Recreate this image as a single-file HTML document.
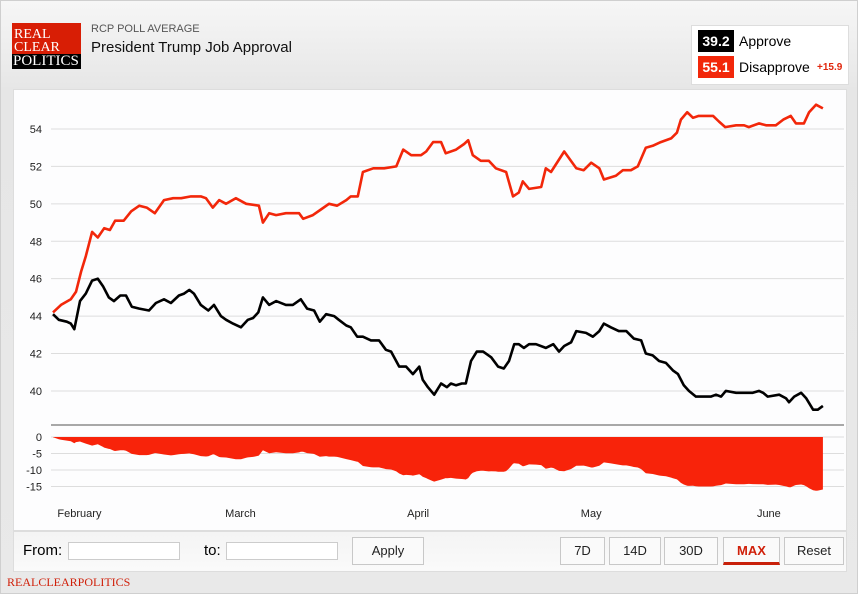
<!DOCTYPE html>
<html><head><meta charset="utf-8">
<style>
*{box-sizing:border-box;margin:0;padding:0}
body{width:858px;height:594px;overflow:hidden;font-family:"Liberation Sans",sans-serif;background:#fff}
#wrap{position:absolute;left:0;top:0;width:858px;height:594px;background:linear-gradient(#f6f6f6,#e6e6e6 90px,#e9e9e9);border:1px solid #cfcfcf}
.abs{position:absolute}
.btn{position:absolute;top:536px;height:28px;border:1px solid #c8c8c8;background:#fafafa;font-size:13px;text-align:center;line-height:26px;color:#222}
.inp{position:absolute;top:541px;height:18px;border:1px solid #ccc;background:#fff}
</style></head><body>
<div id="wrap">
  <div class="abs" style="left:11px;top:22px;width:69px;height:46px;background:#d81e05;font-family:'Liberation Serif',serif;color:#fff;font-size:14px;line-height:13px;padding:5px 0 0 2px">REAL<br>CLEAR<div style="position:absolute;left:0;bottom:0;width:69px;height:15px;background:#000;font-size:15px;line-height:15px;padding-left:1px">POLITICS</div></div>
  <div class="abs" style="left:90px;top:22px;font-size:11px;color:#555">RCP POLL AVERAGE</div>
  <div class="abs" style="left:90px;top:38px;font-size:15px;color:#111">President Trump Job Approval</div>
  <div class="abs" style="left:690px;top:24px;width:158px;height:60px;background:#fff;border:1px solid #ddd">
    <div class="abs" style="left:6px;top:4px;width:36px;height:22px;background:#000;color:#fff;font-weight:bold;font-size:14px;text-align:center;line-height:22px">39.2</div>
    <div class="abs" style="left:47px;top:7px;font-size:14px">Approve</div>
    <div class="abs" style="left:6px;top:30px;width:36px;height:22px;background:#f2270a;color:#fff;font-weight:bold;font-size:14px;text-align:center;line-height:22px">55.1</div>
    <div class="abs" style="left:47px;top:33px;font-size:14px">Disapprove</div>
    <div class="abs" style="left:125px;top:36px;font-size:10px;color:#e0260c;font-weight:bold">+15.9</div>
  </div>
  <div class="abs" style="left:12px;top:88px;width:834px;height:442px;background:#fdfdfe;border:1px solid #ddd"></div>
  <svg class="abs" id="chart" style="left:0;top:0" width="858" height="594"></svg>
  <div class="abs" style="left:12px;top:530px;width:834px;height:41px;background:linear-gradient(#f4f4f4,#fafafa);border:1px solid #ddd"></div>
  <div class="abs" style="left:22px;top:541px;font-size:15px">From:</div>
  <div class="inp" style="left:67px;width:112px"></div>
  <div class="abs" style="left:203px;top:541px;font-size:15px">to:</div>
  <div class="inp" style="left:225px;width:112px"></div>
  <div class="btn" style="left:351px;width:72px">Apply</div>
  <div class="btn" style="left:559px;width:45px">7D</div>
  <div class="btn" style="left:608px;width:52px">14D</div>
  <div class="btn" style="left:663px;width:54px">30D</div>
  <div class="btn" style="left:722px;width:57px;color:#d0200a;font-weight:bold;border-bottom:3px solid #c8200a">MAX</div>
  <div class="btn" style="left:783px;width:60px">Reset</div>
  <div class="abs" style="left:6px;top:574px;font-family:'Liberation Serif',serif;font-size:12px;color:#d0200a">REALCLEARPOLITICS</div>
</div>
<script>
const approveDays=[0,1,2.4,3.1,3.7,4.7,5.7,6.8,7.8,8.7,9.7,10.6,11.7,12.7,13.7,15,16.7,17.9,19.3,20.5,21.9,22.8,23.7,24.5,25.7,27,28,29.2,30.1,31.3,32.7,33.9,34.8,35.7,36.5,37.6,38.8,40.5,41.7,43.1,44.2,45.4,46.4,47.5,48.9,49.7,51,51.8,52.9,53.9,55.3,56.7,57.9,58.8,60.2,61.4,62.6,63.7,64.3,65.2,66.3,67.5,68.5,69.2,70.1,71.1,71.8,72.7,73.7,74.8,76.2,77.4,78.4,79.3,80.2,81,81.9,82.8,84,85.7,87,88,88.9,90.1,91,92.7,93.9,95,95.8,97,98.4,99.7,101,102.3,103.1,104.3,105.4,106.6,107.8,108.7,109.7,110.6,111.8,113.6,114.4,115.3,116.2,117,118.8,121.7,122.8,123.5,124.3,126.3,127.5,128,128.9,130.1,131,132.2,133,133.9];
const approveVals=[44.1,43.8,43.7,43.6,43.3,44.8,45.2,45.9,46.0,45.6,45.0,44.8,45.1,45.1,44.5,44.4,44.3,44.7,44.9,44.7,45.1,45.2,45.4,45.2,44.6,44.3,44.6,44.0,43.8,43.6,43.4,43.8,43.9,44.2,45.0,44.6,44.8,44.6,44.6,44.9,44.4,44.3,43.7,44.1,44.0,43.8,43.5,43.4,42.9,42.9,42.7,42.7,42.2,42.1,41.3,41.3,40.9,41.3,40.6,40.2,39.8,40.4,40.2,40.4,40.3,40.4,40.4,41.6,42.1,42.1,41.8,41.3,41.2,41.6,42.5,42.5,42.3,42.5,42.5,42.3,42.5,42.1,42.4,42.6,43.2,43.1,42.9,43.2,43.6,43.4,43.2,43.2,42.8,42.7,42.0,41.9,41.6,41.5,41.1,40.9,40.3,40.0,39.7,39.7,39.7,39.8,39.7,40.0,39.9,39.9,40.0,39.9,39.7,39.8,39.6,39.4,39.7,39.9,39.6,39.0,39.0,39.2];
const disDays=[0,1.4,3.1,4,4.9,5.7,6.8,7.8,8.9,9.9,10.8,12.3,13.6,15,16.3,17.7,19.3,20.9,22.3,24,25.7,26.6,27.8,28.9,30.1,31.8,33.6,35.8,36.5,37.6,38.8,40.5,42.8,43.5,45.2,46.6,48,49.4,51,51.8,53,53.9,55.7,57.6,59.7,60.9,62.3,64,64.9,66.1,67.5,68.3,70.1,71.5,72.2,73,74.4,75.8,77,78.8,80,81,81.7,82.8,84.9,85.7,86.6,88.9,91,92.3,93.6,95,95.8,97.9,99.1,100.5,101.7,103.1,104.3,105.7,107.5,108.5,109.2,110.3,111.3,112.3,114.8,115.8,116.9,118.8,120.2,121,122.8,124,125.7,127,128.3,129.2,130.6,131.5,132.7,133.9];
const disVals=[44.2,44.6,44.9,45.3,46.4,47.2,48.5,48.2,48.7,48.6,49.1,49.1,49.6,49.9,49.8,49.5,50.2,50.3,50.3,50.4,50.4,50.3,49.8,50.2,50.0,50.3,50.0,49.9,49.0,49.5,49.4,49.5,49.5,49.2,49.4,49.7,50.0,49.9,50.2,50.4,50.4,51.7,51.9,51.9,52.0,52.9,52.6,52.6,52.8,53.3,53.3,52.7,52.9,53.2,53.4,52.6,52.3,52.3,51.9,51.7,50.4,50.6,51.2,50.8,50.9,51.9,51.7,52.8,51.9,51.8,52.2,51.9,51.3,51.5,51.8,51.8,52.0,53.0,53.1,53.3,53.5,53.8,54.5,54.9,54.6,54.7,54.7,54.4,54.1,54.2,54.2,54.1,54.3,54.2,54.2,54.5,54.7,54.3,54.3,54.9,55.3,55.1];
const yTicks=[40,42,44,46,48,50,52,54];
const spreadTicks=[0,-5,-10,-15];
const monthLabels=["February","March","April","May","June"];
const monthDays=[4.6,32.6,63.5,93.6,124.5];

const svg=document.getElementById('chart');
const NS='http://www.w3.org/2000/svg';
const xS=d=>52+d*5.75;
const yS=v=>128+(54-v)*18.71;
const sS=v=>436-v*3.3;
function mk(tag,attrs,parent){const e=document.createElementNS(NS,tag);for(const k in attrs)e.setAttribute(k,attrs[k]);(parent||svg).appendChild(e);return e;}

yTicks.forEach(t=>{
  const g=mk('line',{x1:50,x2:843,y1:yS(t),y2:yS(t),stroke:'#ddd','stroke-width':1});
  
  
  const l=mk('text',{x:41,y:yS(t)+4,'text-anchor':'end','font-size':11,fill:'#222','font-family':'Liberation Sans, sans-serif'});
  l.textContent=t;
  
  
});
const sep=mk('line',{x1:50,x2:843,y1:424,y2:424,stroke:'#a8a8a8','stroke-width':2});


spreadTicks.forEach(t=>{
  const g=mk('line',{x1:50,x2:843,y1:sS(t),y2:sS(t),stroke:'#ddd','stroke-width':1});
  
  
  const l=mk('text',{x:41,y:sS(t)+4,'text-anchor':'end','font-size':11,fill:'#222','font-family':'Liberation Sans, sans-serif'});
  l.textContent=t;
  
  
});
function interp(days,vals,d){if(d<=days[0])return vals[0];for(let i=1;i<days.length;i++){if(d<=days[i]){const f=(d-days[i-1])/(days[i]-days[i-1]);return vals[i-1]+f*(vals[i]-vals[i-1]);}}return vals[vals.length-1];}
const allDays=[...new Set(approveDays.concat(disDays))].sort((a,b)=>a-b);
let sp='M'+xS(allDays[0])+','+sS(0);
allDays.forEach(d=>{const s=interp(approveDays,approveVals,d)-interp(disDays,disVals,d);sp+=' L'+xS(d).toFixed(1)+','+sS(s).toFixed(1);});
sp+=' L'+xS(allDays[allDays.length-1])+','+sS(0)+' Z';
const area=mk('path',{d:sp,fill:'#f8230a'});


function line(days,vals,color,name){
  const d=days.map((x,i)=>(i?'L':'M')+xS(x).toFixed(1)+','+yS(vals[i]).toFixed(1)).join(' ');
  const p=mk('path',{d:d,fill:'none',stroke:color,'stroke-width':2.6,'stroke-linejoin':'round'});
  
  
}
line(disDays,disVals,'#f2270a','disapprove-line');
line(approveDays,approveVals,'#000','approve-line');
monthLabels.forEach((m,i)=>{
  const l=mk('text',{x:xS(monthDays[i]),y:516,'text-anchor':'middle','font-size':11,fill:'#222','font-family':'Liberation Sans, sans-serif'});
  l.textContent=m;
  
  
});
</script>
</body></html>
